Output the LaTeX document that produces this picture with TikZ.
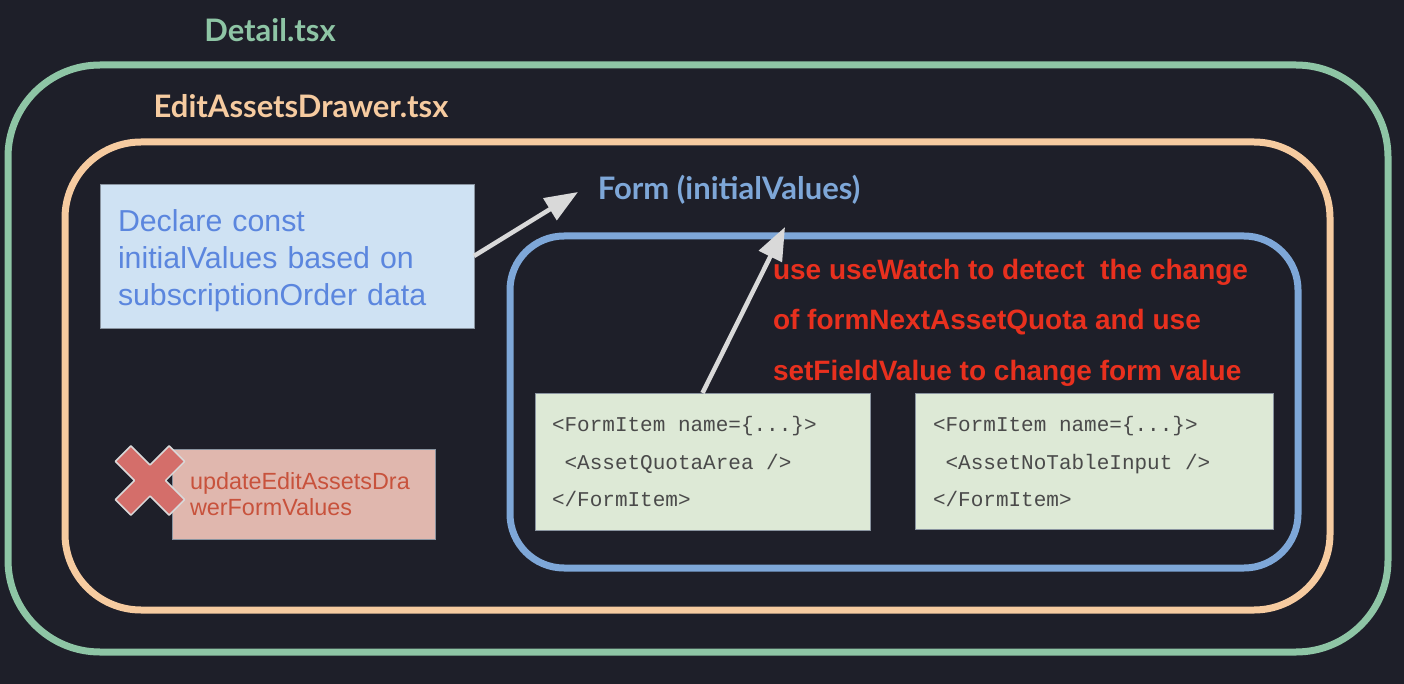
\documentclass[tikz,border=0pt]{standalone}
\usepackage{fontspec}
\setmainfont{Liberation Sans}
\setmonofont{Liberation Mono}
\newfontfamily\latofont{Lato}
\usetikzlibrary{positioning}
\usetikzlibrary{arrows.meta}
\definecolor{darkBg}{HTML}{1E1F29}
\definecolor{detailGreen}{HTML}{8EC5A5}
\definecolor{drawerOrange}{HTML}{F6CBA0}
\definecolor{formBlue}{HTML}{7EA7D8}
\definecolor{declareFill}{HTML}{CFE2F3}
\definecolor{declareText}{HTML}{5B86DE}
\definecolor{codeFill}{HTML}{DDE9D6}
\definecolor{codeText}{HTML}{4A4A4A}
\definecolor{removeFill}{HTML}{E0B7AE}
\definecolor{removeText}{HTML}{C8523C}
\definecolor{crossFill}{HTML}{D46E6A}
\definecolor{watchRed}{HTML}{E8301E}
\definecolor{arrowGray}{HTML}{D9D9D9}
\definecolor{edgeGray}{HTML}{8A94A0}
\newcommand{\codesp}{\hspace*{0.6em}}

\begin{document}
\begin{tikzpicture}[x=1pt, y=-1pt, inner sep=0pt, outer sep=0pt,
    frame/.style={draw, rectangle, line width=7pt},
    title/.style={font=\latofont\bfseries\fontsize{31}{36}\selectfont},
    codebox/.style={draw=edgeGray, line width=0.8pt, fill=codeFill, text=codeText, align=left, inner xsep=17pt, font=\ttfamily\fontsize{21}{37.5}\selectfont},
    flow/.style={line width=4.5pt, draw=arrowGray, -{Triangle[length=33pt, width=25pt]}}
]
    \fill [darkBg] (0,0) rectangle (1404,684);
    \useasboundingbox (0,0) rectangle (1404,684);

    \node (detail_box) [frame, draw=detailGreen, rounded corners=92pt, minimum width=1380pt, minimum height=587pt] at (698,358.5) {};
    \node (detail_title) [title, text=detailGreen] at (270,30) {Detail.tsx};

    \node (drawer_box) [frame, draw=drawerOrange, rounded corners=76pt, minimum width=1265pt, minimum height=468pt] at (697.5,376) {};
    \node (drawer_title) [title, text=drawerOrange] at (301,106) {EditAssetsDrawer.tsx};

    \node (form_box) [frame, draw=formBlue, rounded corners=54pt, minimum width=788pt, minimum height=332pt] at (904,402) {};
    \node (form_title) [title, text=formBlue] at (729,190) {Form (initialValues)};

    \node (declare) [draw=edgeGray, line width=0.8pt, fill=declareFill, text=declareText, align=left, inner xsep=18pt, text width=338pt, minimum height=144pt, font=\fontsize{30.3}{37}\selectfont] at (287,256) {\rule{0pt}{32pt}Declare const\\initialValues based on\\subscriptionOrder data};

    \node (remove) [draw=edgeGray, line width=0.8pt, fill=removeFill, text=removeText, align=left, inner xsep=18pt, text width=227pt, minimum height=90pt, font=\fontsize{23.4}{25.5}\selectfont] at (303.5,494) {updateEditAssetsDra\\werFormValues};

    % cross over the removed call
    \begin{scope}[shift={(150,480.5)}, rotate=45]
        \draw [fill=crossFill, draw=arrowGray, line width=1.5pt, line join=round]
            (11,11) -- (11,38) -- (-11,38) -- (-11,11) -- (-38,11) -- (-38,-11) -- (-11,-11) -- (-11,-38) -- (11,-38) -- (11,-11) -- (38,-11) -- (38,11) -- cycle;
    \end{scope}

    \node (code_a) [codebox, text width=301pt, minimum height=137pt] at (702.5,461.5) {<FormItem\codesp name=\{...\}>\\\codesp<AssetQuotaArea\codesp/>\\</FormItem>};
    \node (code_b) [codebox, inner xsep=18pt, text width=322pt, minimum height=136pt, right=45pt of code_a] {<FormItem\codesp name=\{...\}>\\\codesp<AssetNoTableInput\codesp/>\\</FormItem>};

    \node (watch_note) [anchor=north west, align=left, text=watchRed, font=\bfseries\fontsize{28}{50.5}\selectfont] at (773,259) {use useWatch to detect\ \ the change\\of formNextAssetQuota and use\\setFieldValue to change form value};

    \coordinate (declare_tip) at (578,192);
    \coordinate (watch_tip) at (785,227);

    \draw [flow] (declare.east) -- (declare_tip);
    \draw [flow] (code_a.north) -- (watch_tip);
\end{tikzpicture}
\end{document}
